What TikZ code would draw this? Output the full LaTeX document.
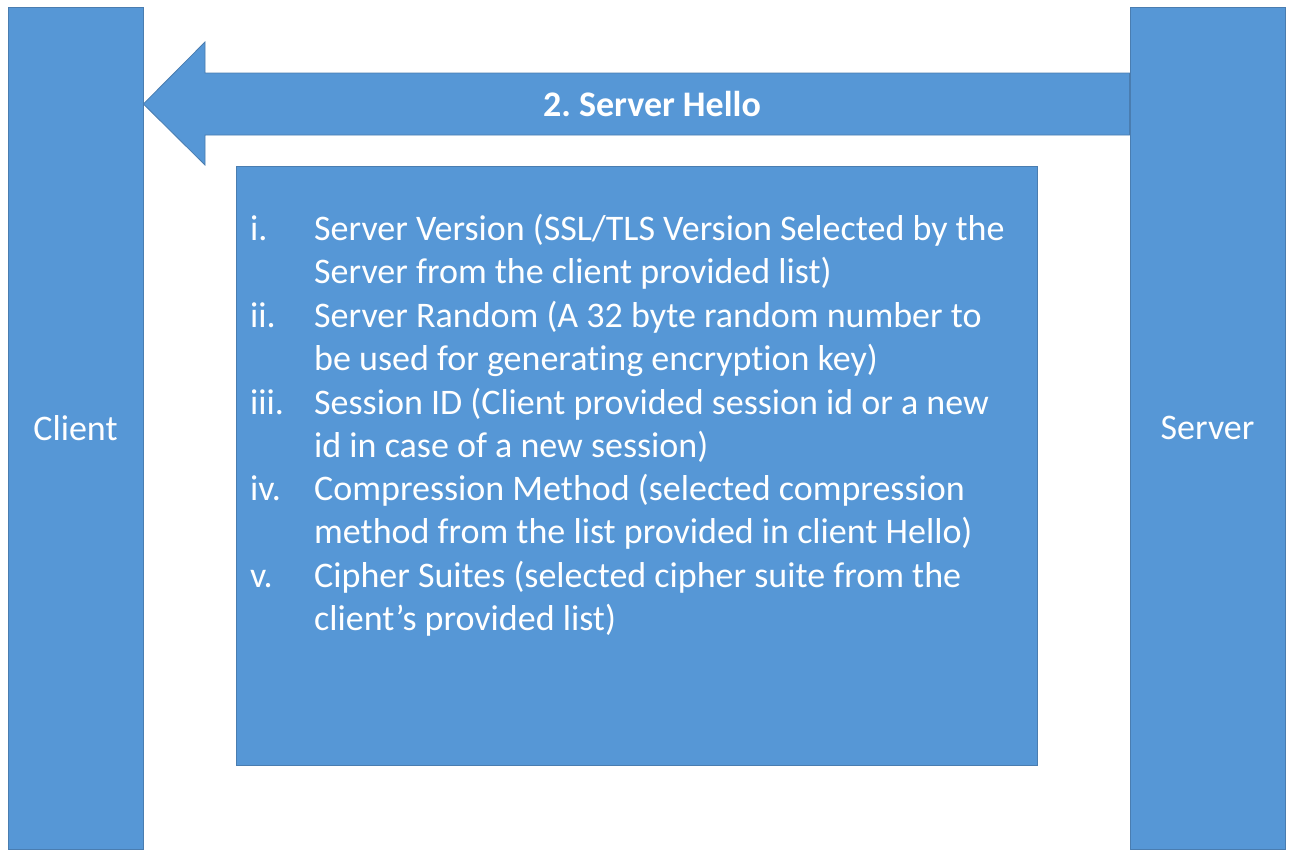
\documentclass[tikz,border=0pt]{standalone}
\usepackage{fontspec}
\setmainfont{Carlito}[Ligatures={NoCommon}]
\frenchspacing
\begin{document}
\begin{tikzpicture}[x=1pt,y=-1pt,
  blk/.style={fill=boxblue,draw=edgeblue,line width=0.8pt},
  wt/.style={text=white,font=\fontsize{36}{43.4}\selectfont,inner sep=0pt},
  lbl/.style={wt,anchor=base west},
  itm/.style={wt,anchor=base west,align=left}]
\definecolor{boxblue}{HTML}{5697D6}
\definecolor{edgeblue}{HTML}{4A7DB0}
\useasboundingbox (0,0) rectangle (1295,857);
\fill[white] (0,0) rectangle (1295,857);
% side bars
\node[blk,minimum width=135pt,minimum height=842pt,inner sep=0pt] (client) at (75.5,428) {};
\node[blk,minimum width=155pt,minimum height=842pt,inner sep=0pt] (server) at (1207.5,428) {};
\node[wt] (clienttxt) at (client.center) {Client};
\node[wt] (servertxt) at (server.center) {Server};
% arrow
\coordinate (tip) at (client.east |- 0,104);
\draw[blk] (tip) -- (205,42) -- (205,73) -- (server.west |- 0,73) -- (server.west |- 0,135) -- (205,135) -- (205,165) -- cycle;
\node[wt,font=\fontsize{36}{43}\selectfont\bfseries] (hello) at (652,104) {2. Server Hello};
% content box
\node[blk,minimum width=801pt,minimum height=599pt,inner sep=0pt] (content) at (636.5,465.5) {};
% list
\node[lbl] (l1) at (250,240) {i.};
\node[itm] (t1) at (314,283.4) {Server Version (SSL/TLS Version Selected by the\\Server from the client provided list)};
\node[lbl] (l2) at (250,327) {ii.};
\node[itm] (t2) at (314,370.4) {Server Random (A 32 byte random number to\\be used for generating encryption key)};
\node[lbl] (l3) at (250,414) {iii.};
\node[itm] (t3) at (314,457.4) {Session ID (Client provided session id or a new\\id in case of a new session)};
\node[lbl] (l4) at (250,500.5) {iv.};
\node[itm] (t4) at (314,543.9) {Compression Method (selected compression\\method from the list provided in client Hello)};
\node[lbl] (l5) at (250,587) {v.};
\node[itm] (t5) at (314,630.4) {Cipher Suites (selected cipher suite from the\\client’s provided list)};
\end{tikzpicture}
\end{document}
